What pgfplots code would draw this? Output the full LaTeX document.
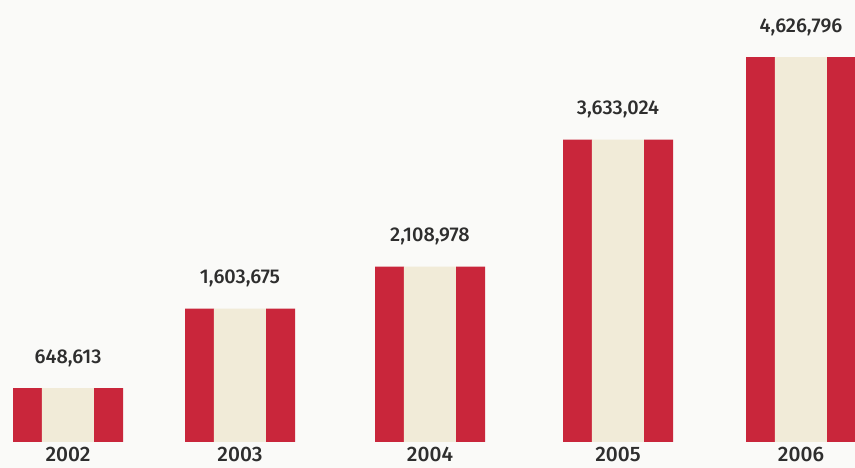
\documentclass[border=0pt]{standalone}
\usepackage{pgfplots}
\pgfplotsset{compat=1.18}
\usepackage{fontspec}
\setmainfont{Open Sans}
\newfontfamily\medfont{Fira Sans Medium}
\definecolor{barred}{HTML}{C9263B}
\definecolor{cream}{HTML}{F1EBD8}
\definecolor{bgcol}{HTML}{FAFAF8}
\definecolor{txt}{HTML}{2E2E2E}
\begin{document}
\begin{tikzpicture}
\begin{axis}[
  scale only axis, width=855bp, height=468bp,
  xmin=0, xmax=855, ymin=-312500, ymax=5312500,
  axis x line=middle, axis y line=none,
  axis line style={draw=none},
  axis background/.style={fill=bgcol},
  xtick={68,240,430,618,801},
  xticklabels={2002,2003,2004,2005,2006},
  major tick length=0pt,
  ytick=\empty,
  xticklabel style={font=\fontsize{21}{24}\medfont, text=txt, yshift=-2pt},
  /pgf/number format/assume math mode=true,
]
\addplot[ybar, bar width=29, bar shift=-40.5, fill=barred, draw=none]
  coordinates {(68,648613) (240,1603675) (430,2108978) (618,3633024) (801,4626796)};
\addplot[ybar, bar width=52.5, bar shift=0, fill=cream, draw=none,
  nodes near coords, point meta=y,
  every node near coord/.append style={font=\fontsize{20}{23}\medfont, text=txt, anchor=south, yshift=18pt,
    /pgf/number format/.cd, fixed, precision=0, 1000 sep={,}, assume math mode=true}]
  coordinates {(68,648613) (240,1603675) (430,2108978) (618,3633024) (801,4626796)};
\addplot[ybar, bar width=29, bar shift=40.5, fill=barred, draw=none]
  coordinates {(68,648613) (240,1603675) (430,2108978) (618,3633024) (801,4626796)};
\end{axis}
\end{tikzpicture}
\end{document}
